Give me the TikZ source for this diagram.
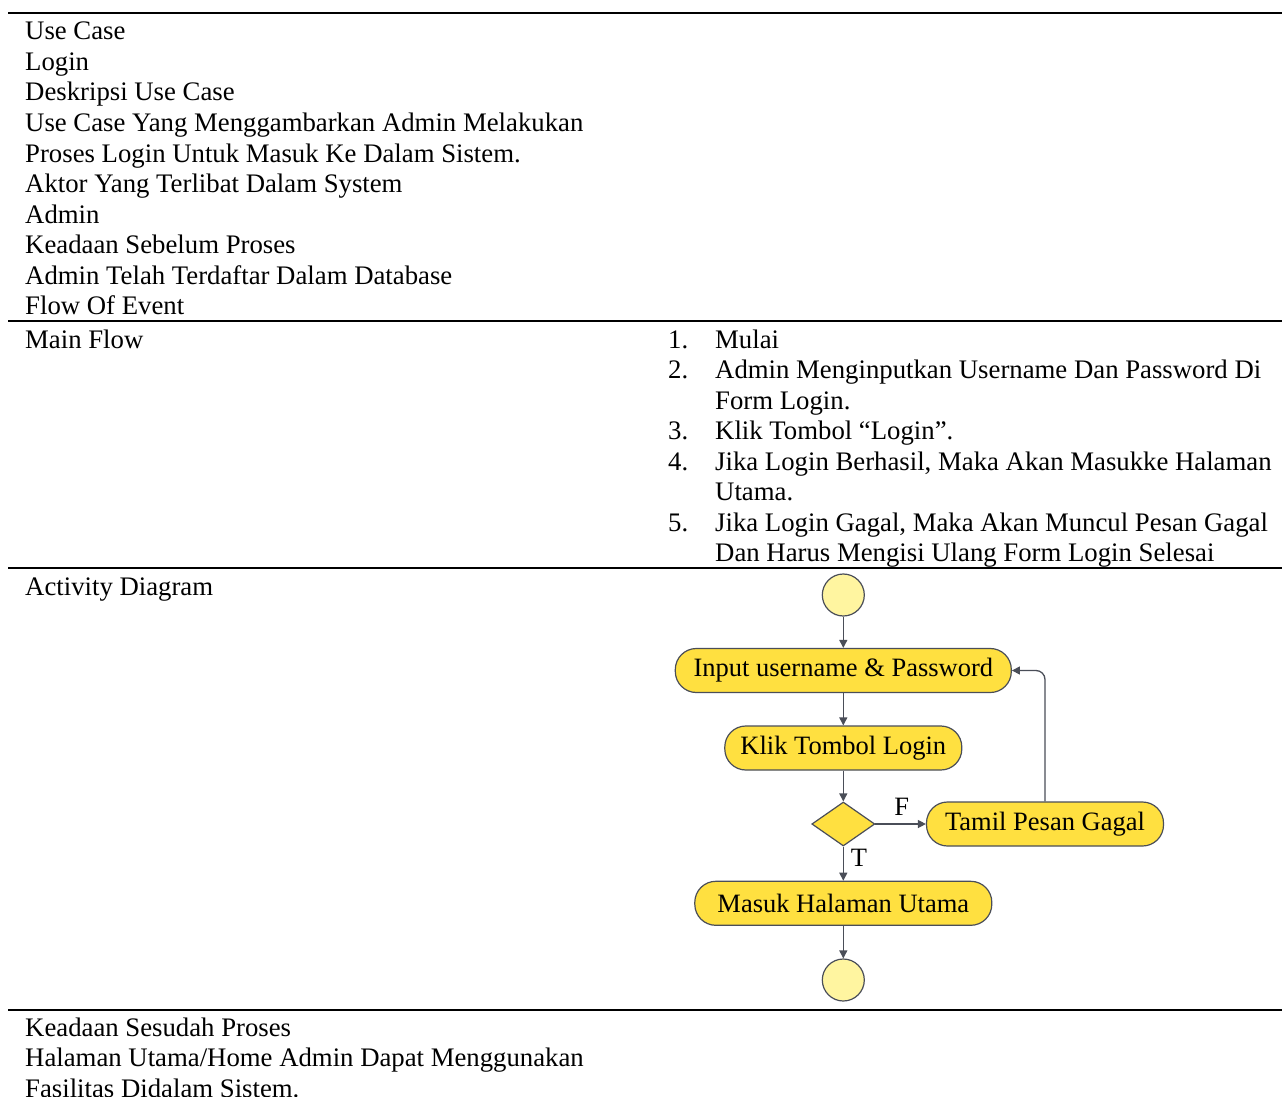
\documentclass[tikz,border=0pt]{standalone}
\usepackage{fontspec}
\setmainfont{Liberation Serif}
\usetikzlibrary{arrows.meta,shapes.geometric}
\definecolor{actfill}{RGB}{255,224,64}
\definecolor{circfill}{RGB}{255,245,160}
\definecolor{edge}{RGB}{74,78,88}
\tikzset{
  txt/.style={anchor=base west, inner sep=0pt, font=\fontsize{26.75}{30.5}\selectfont},
  rule/.style={line width=1.8pt},
  action/.style={draw=edge, line width=1.2pt, fill=actfill, rounded corners=21pt,
    minimum height=44pt, inner sep=0pt, font=\fontsize{26.5}{30.5}\selectfont},
  endpoint/.style={draw=edge, line width=1.2pt, fill=circfill, circle, minimum size=42pt, inner sep=0pt},
  decision/.style={draw=edge, line width=1.2pt, fill=actfill, diamond, minimum width=63pt,
    minimum height=44pt, inner sep=0pt, aspect=1.43},
  arr/.style={draw=edge, line width=1.3pt, -{Triangle[length=8pt,width=8pt]}},
  lbl/.style={inner sep=0pt, font=\fontsize{26.5}{30.5}\selectfont}
}
\begin{document}
\begin{tikzpicture}[x=1pt,y=-1pt]
\useasboundingbox (0,0) rectangle (1282,1097);
\fill[white] (0,0) rectangle (1282,1097);

% horizontal rules of the table
\draw[rule] (8,13) -- (1282,13);
\draw[rule] (8,321) -- (1282,321);
\draw[rule] (8,568) -- (1282,568);
\draw[rule] (8,1010) -- (1282,1010);

% header block
\node[txt] (h1) at (25,40) {Use Case};
\node[txt] (h2) at (25,70.5) {Login};
\node[txt] (h3) at (25,101) {Deskripsi Use Case};
\node[txt] (h4) at (25,131.5) {Use Case Yang Menggambarkan Admin Melakukan};
\node[txt] (h5) at (25,162) {Proses Login Untuk Masuk Ke Dalam Sistem.};
\node[txt] (h6) at (25,192.5) {Aktor Yang Terlibat Dalam System};
\node[txt] (h7) at (25,223) {Admin};
\node[txt] (h8) at (25,253.5) {Keadaan Sebelum Proses};
\node[txt] (h9) at (25,284) {Admin Telah Terdaftar Dalam Database};
\node[txt] (h10) at (25,314.5) {Flow Of Event};

% main flow
\node[txt] (mf) at (25,348) {Main Flow};
\node[txt] (n1) at (668,348) {1.};
\node[txt] (t1) at (715,348) {Mulai};
\node[txt] (n2) at (668,378.5) {2.};
\node[txt] (t2) at (715,378.5) {Admin Menginputkan Username Dan Password Di};
\node[txt] (t2b) at (715,409) {Form Login.};
\node[txt] (n3) at (668,439.5) {3.};
\node[txt] (t3) at (715,439.5) {Klik Tombol “Login”.};
\node[txt] (n4) at (668,470) {4.};
\node[txt] (t4) at (715,470) {Jika Login Berhasil, Maka Akan Masukke Halaman};
\node[txt] (t4b) at (715,500.5) {Utama.};
\node[txt] (n5) at (668,531) {5.};
\node[txt] (t5) at (715,531) {Jika Login Gagal, Maka Akan Muncul Pesan Gagal};
\node[txt] (t5b) at (715,561.5) {Dan Harus Mengisi Ulang Form Login Selesai};

% activity diagram
\node[txt] (ad) at (25,595) {Activity Diagram};

\node[endpoint] (start) at (843.3,595) {};
\node[action, minimum width=336pt] (inp) at (843.3,670.5) {Input username \& Password};
\node[action, minimum width=237pt] (klik) at (843.3,748) {Klik Tombol Login};
\node[decision] (dec) at (843.3,824) {};
\node[action, minimum width=237pt] (gagal) at (1045,824) {Tamil Pesan Gagal};
\node[action, minimum width=297pt] (masuk) at (843.3,903.3) {Masuk Halaman Utama};
\node[endpoint] (stop) at (843.3,980) {};

\draw[arr] (start) -- (inp);
\draw[arr] (inp) -- (klik);
\draw[arr] (klik) -- (dec);
\draw[arr] (dec.east) -- (gagal.west);
\draw[arr] (dec.south) -- (masuk.north);
\draw[arr] (masuk) -- (stop);
\draw[arr, rounded corners=9pt] (gagal.north) |- (inp.east);

\node[lbl] (fl) at (901.7,806.7) {F};
\node[lbl] (tl) at (859,858.3) {T};

% closing block
\node[txt] (k1) at (25,1036) {Keadaan Sesudah Proses};
\node[txt] (k2) at (25,1066.5) {Halaman Utama/Home Admin Dapat Menggunakan};
\node[txt] (k3) at (25,1097) {Fasilitas Didalam Sistem.};
\end{tikzpicture}
\end{document}
